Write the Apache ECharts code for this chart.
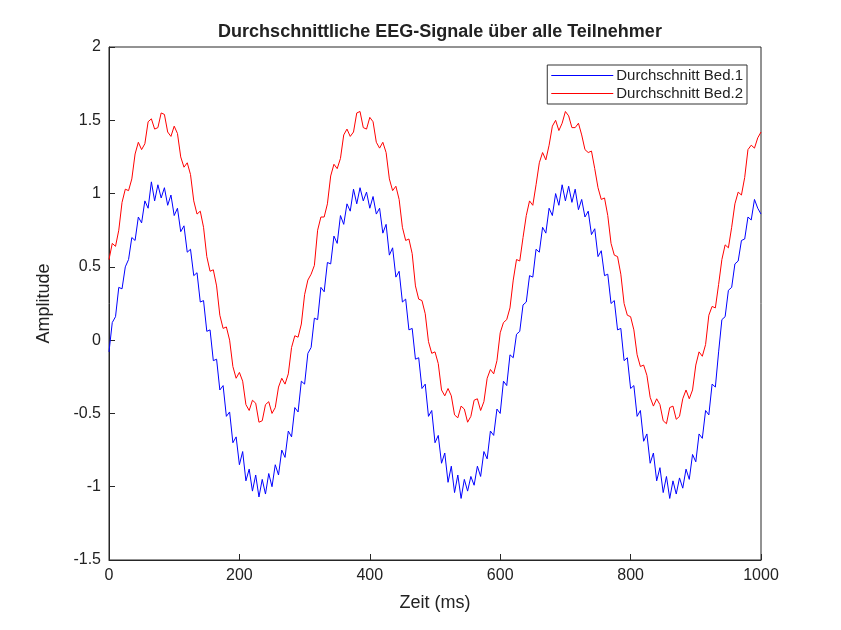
<!DOCTYPE html>
<html>
<head>
<meta charset="utf-8">
<script src="https://cdn.jsdelivr.net/npm/echarts@6/dist/echarts.min.js"></script>
<style>html,body{margin:0;padding:0;background:#fff}#chart{width:841px;height:630px}</style>
</head>
<body>
<div id="chart"></div>
<script>
var stepMs = 5;
var bed1 = [
 -0.08,0.12,0.16,0.36,0.35,0.50,0.55,0.70,0.68,0.84,0.80,0.95,0.90,1.08,0.95,1.06,0.97,1.04,0.92,0.99,
 0.85,0.90,0.74,0.78,0.60,0.62,0.44,0.46,0.26,0.27,0.06,0.07,-0.14,-0.13,-0.34,-0.31,-0.52,-0.49,-0.70,-0.66,
 -0.85,-0.76,-0.96,-0.88,-1.03,-0.92,-1.07,-0.95,-1.05,-0.91,-1.00,-0.85,-0.92,-0.75,-0.80,-0.62,-0.66,-0.46,-0.49,-0.28,
 -0.30,-0.09,
 -0.05,0.15,0.14,0.36,0.33,0.53,0.52,0.71,0.66,0.85,0.79,0.93,0.88,1.03,0.93,1.04,0.95,1.01,0.90,0.98,
 0.86,0.90,0.73,0.79,0.58,0.63,0.43,0.47,0.26,0.28,0.07,0.08,-0.13,-0.12,-0.33,-0.30,-0.52,-0.48,-0.70,-0.65,
 -0.84,-0.77,-0.97,-0.86,-1.04,-0.92,-1.08,-0.95,-1.03,-0.93,-0.99,-0.86,-0.93,-0.76,-0.81,-0.62,-0.65,-0.47,-0.50,-0.28,
 -0.31,-0.10,-0.12,
 0.04,0.06,0.24,0.26,0.44,0.43,0.62,0.60,0.77,0.73,0.90,0.85,1.00,0.92,1.06,0.95,1.05,0.94,1.03,0.89,
 0.96,0.84,0.88,0.72,0.76,0.57,0.61,0.44,0.45,0.25,0.27,0.07,0.08,-0.14,-0.12,-0.33,-0.31,-0.52,-0.48,-0.69,
 -0.64,-0.84,-0.77,-0.96,-0.87,-1.04,-0.93,-1.08,-0.96,-1.05,-0.94,-1.01,-0.88,-0.95,-0.78,-0.83,-0.64,-0.67,-0.48,-0.51,
 -0.30,-0.32,
 -0.08,0.14,0.16,0.34,0.36,0.52,0.54,0.68,0.69,0.84,0.82,0.96,0.90,0.86
];
var bed2 = [
 0.55,0.66,0.64,0.75,0.94,1.03,1.02,1.10,1.27,1.35,1.30,1.34,1.49,1.51,1.44,1.45,1.55,1.54,1.42,1.39,
 1.46,1.41,1.25,1.18,1.21,1.13,0.95,0.86,0.88,0.77,0.57,0.47,0.48,0.37,0.17,0.08,0.09,0.00,-0.18,-0.26,
 -0.22,-0.28,-0.44,-0.48,-0.41,-0.43,-0.56,-0.55,-0.44,-0.42,-0.50,-0.46,-0.32,-0.26,-0.30,-0.23,-0.05,0.03,0.02,0.11,
 0.31,0.41,
 0.45,0.51,0.75,0.84,0.84,0.93,1.12,1.20,1.17,1.24,1.40,1.44,1.39,1.42,1.55,1.56,1.45,1.44,1.52,1.49,
 1.35,1.31,1.35,1.28,1.10,1.02,1.05,0.96,0.77,0.68,0.69,0.59,0.37,0.28,0.27,0.18,-0.01,-0.09,-0.08,-0.16,
 -0.34,-0.38,-0.33,-0.38,-0.51,-0.53,-0.45,-0.47,-0.56,-0.52,-0.41,-0.40,-0.48,-0.42,-0.26,-0.20,-0.23,-0.14,0.05,0.12,
 0.14,0.22,0.41,
 0.55,0.54,0.70,0.85,0.95,0.92,1.06,1.21,1.28,1.23,1.33,1.46,1.50,1.43,1.48,1.56,1.53,1.45,1.45,1.48,
 1.40,1.30,1.28,1.29,1.17,1.04,0.96,0.97,0.85,0.66,0.58,0.57,0.45,0.25,0.17,0.16,0.07,-0.10,-0.18,-0.17,
 -0.24,-0.39,-0.45,-0.40,-0.44,-0.55,-0.57,-0.46,-0.45,-0.54,-0.52,-0.40,-0.34,-0.40,-0.34,-0.17,-0.08,-0.11,-0.03,0.17,
 0.23,0.22,
 0.38,0.55,0.65,0.63,0.77,0.93,1.01,0.99,1.11,1.30,1.33,1.31,1.38,1.42
];

function pairs(arr){
	var out = [];
	arr.forEach(function(v, i){ out.push([i*stepMs, v]); });
	return out;
}

var font = 'Liberation Sans, Arial, sans-serif';
var chart = echarts.init(document.getElementById('chart'));
chart.setOption({
	animation: false,
	title: {
		text: 'Durchschnittliche EEG-Signale über alle Teilnehmer',
		left: 435, top: 18, textAlign: 'center',
		textStyle: {fontFamily: font, fontSize: 18, fontWeight: 'bold', color: '#222'}
	},
	legend: {
		orient: 'vertical', right: 94, top: 65,
		backgroundColor: '#fff', borderColor: '#333', borderWidth: 1,
		padding: [3, 4, 3, 4], itemGap: 3,
		itemWidth: 62, itemHeight: 1,
		icon: 'rect',
		textStyle: {fontFamily: font, fontSize: 15, color: '#222', padding: [0,0,0,-2]},
		data: ['Durchschnitt Bed.1', 'Durchschnitt Bed.2']
	},
	grid: {left: 109, right: 80, top: 47, bottom: 70, show: true, borderColor: '#262626', borderWidth: 1},
	xAxis: {
		type: 'value', min: 0, max: 1000, interval: 200,
		name: 'Zeit (ms)', nameLocation: 'middle', nameGap: 34,
		nameTextStyle: {fontFamily: font, fontSize: 18, color: '#222'},
		axisLine: {onZero: false, lineStyle: {color: '#262626'}},
		axisTick: {inside: true, length: 6, lineStyle: {color: '#262626'}},
		axisLabel: {fontFamily: font, fontSize: 16, color: '#222', formatter: function(v){ return String(v); }},
		splitLine: {show: false}
	},
	yAxis: {
		type: 'value', min: -1.5, max: 2, interval: 0.5,
		name: 'Amplitude', nameLocation: 'middle', nameGap: 56,
		nameTextStyle: {fontFamily: font, fontSize: 18, color: '#222'},
		axisLine: {show: true, onZero: false, lineStyle: {color: '#262626'}},
		axisTick: {show: true, inside: true, length: 6, lineStyle: {color: '#262626'}},
		axisLabel: {fontFamily: font, fontSize: 16, color: '#222'},
		splitLine: {show: false}
	},
	series: [
		{name: 'Durchschnitt Bed.1', type: 'line', data: pairs(bed1), symbol: 'none',
			lineStyle: {color: '#0000ff', width: 1}, itemStyle: {color: '#0000ff'}},
		{name: 'Durchschnitt Bed.2', type: 'line', data: pairs(bed2), symbol: 'none',
			lineStyle: {color: '#ff0000', width: 1}, itemStyle: {color: '#ff0000'}}
	]
});
</script>
</body>
</html>
